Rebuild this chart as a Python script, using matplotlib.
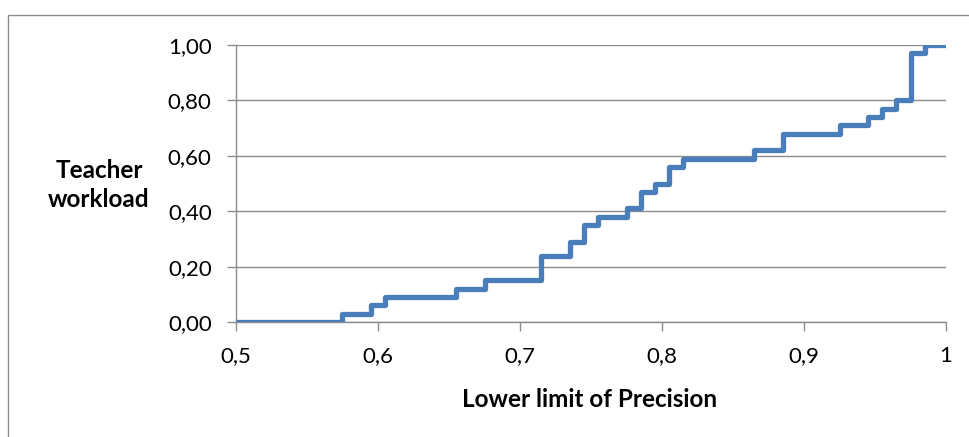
import matplotlib.pyplot as plt
from matplotlib.ticker import FuncFormatter
from matplotlib.patches import Rectangle

# puntos de cambio de la curva escalonada
precision = [0.5, 0.575, 0.595, 0.605, 0.655, 0.675, 0.715, 0.735, 0.745, 0.755,
             0.775, 0.785, 0.795, 0.805, 0.815, 0.865, 0.885, 0.925, 0.945, 0.955,
             0.965, 0.975, 0.985, 1.0]
workload = [0.00, 0.03, 0.06, 0.09, 0.12, 0.15, 0.24, 0.29, 0.35, 0.38,
            0.41, 0.47, 0.50, 0.56, 0.59, 0.62, 0.68, 0.71, 0.74, 0.77,
            0.80, 0.97, 1.00, 1.00]
x_ticks = [0.5, 0.6, 0.7, 0.8, 0.9, 1.0]
x_labels = ['0,5', '0,6', '0,7', '0,8', '0,9', '1']
y_ticks = [0.0, 0.2, 0.4, 0.6, 0.8, 1.0]

plt.rcParams['font.family'] = ['Lato', 'DejaVu Sans']

W, H = 969, 437
fig = plt.figure(figsize=(W / 100, H / 100), dpi=100)
ax = fig.add_axes([236 / W, 1 - 322 / H, 710 / W, 277 / H])

# marco del área del gráfico (recortado a derecha y abajo)
fig.patches.append(Rectangle((8 / W, -0.1), 1.2, 1 - 15 / H + 0.1,
                             transform=fig.transFigure, fill=False,
                             edgecolor='#8c8c8c', linewidth=1))

ax.step(precision, workload, where='post', color='#4a7ebb', linewidth=3.8,
        solid_joinstyle='round', solid_capstyle='butt', zorder=3)

ax.set_xlim(0.5, 1.0)
ax.set_ylim(0, 1.0)
ax.set_xticks(x_ticks)
ax.set_xticklabels(x_labels)
ax.set_yticks(y_ticks)
ax.yaxis.set_major_formatter(FuncFormatter(lambda v, p: f'{v:.2f}'.replace('.', ',')))

ax.grid(axis='y', color='#8c8c8c', linewidth=1)
ax.set_axisbelow(True)
for s in ['top', 'right']:
    ax.spines[s].set_visible(False)
for s in ['left', 'bottom']:
    ax.spines[s].set_color('#8c8c8c')
    ax.spines[s].set_linewidth(1)
ax.tick_params(axis='both', colors='#8c8c8c', labelcolor='black', labelsize=16,
               length=6.5, width=1, direction='out', pad=11)

fig.text(99 / W, 1 - 178 / H, 'Teacher', ha='center', va='baseline',
         fontsize=17.5, fontweight='bold')
fig.text(99 / W, 1 - 207 / H, 'workload', ha='center', va='baseline',
         fontsize=17.5, fontweight='bold')
fig.text(590 / W, 1 - 407 / H, 'Lower limit of Precision', ha='center', va='baseline',
         fontsize=17.5, fontweight='bold')

fig.savefig('out.png', dpi=100)
